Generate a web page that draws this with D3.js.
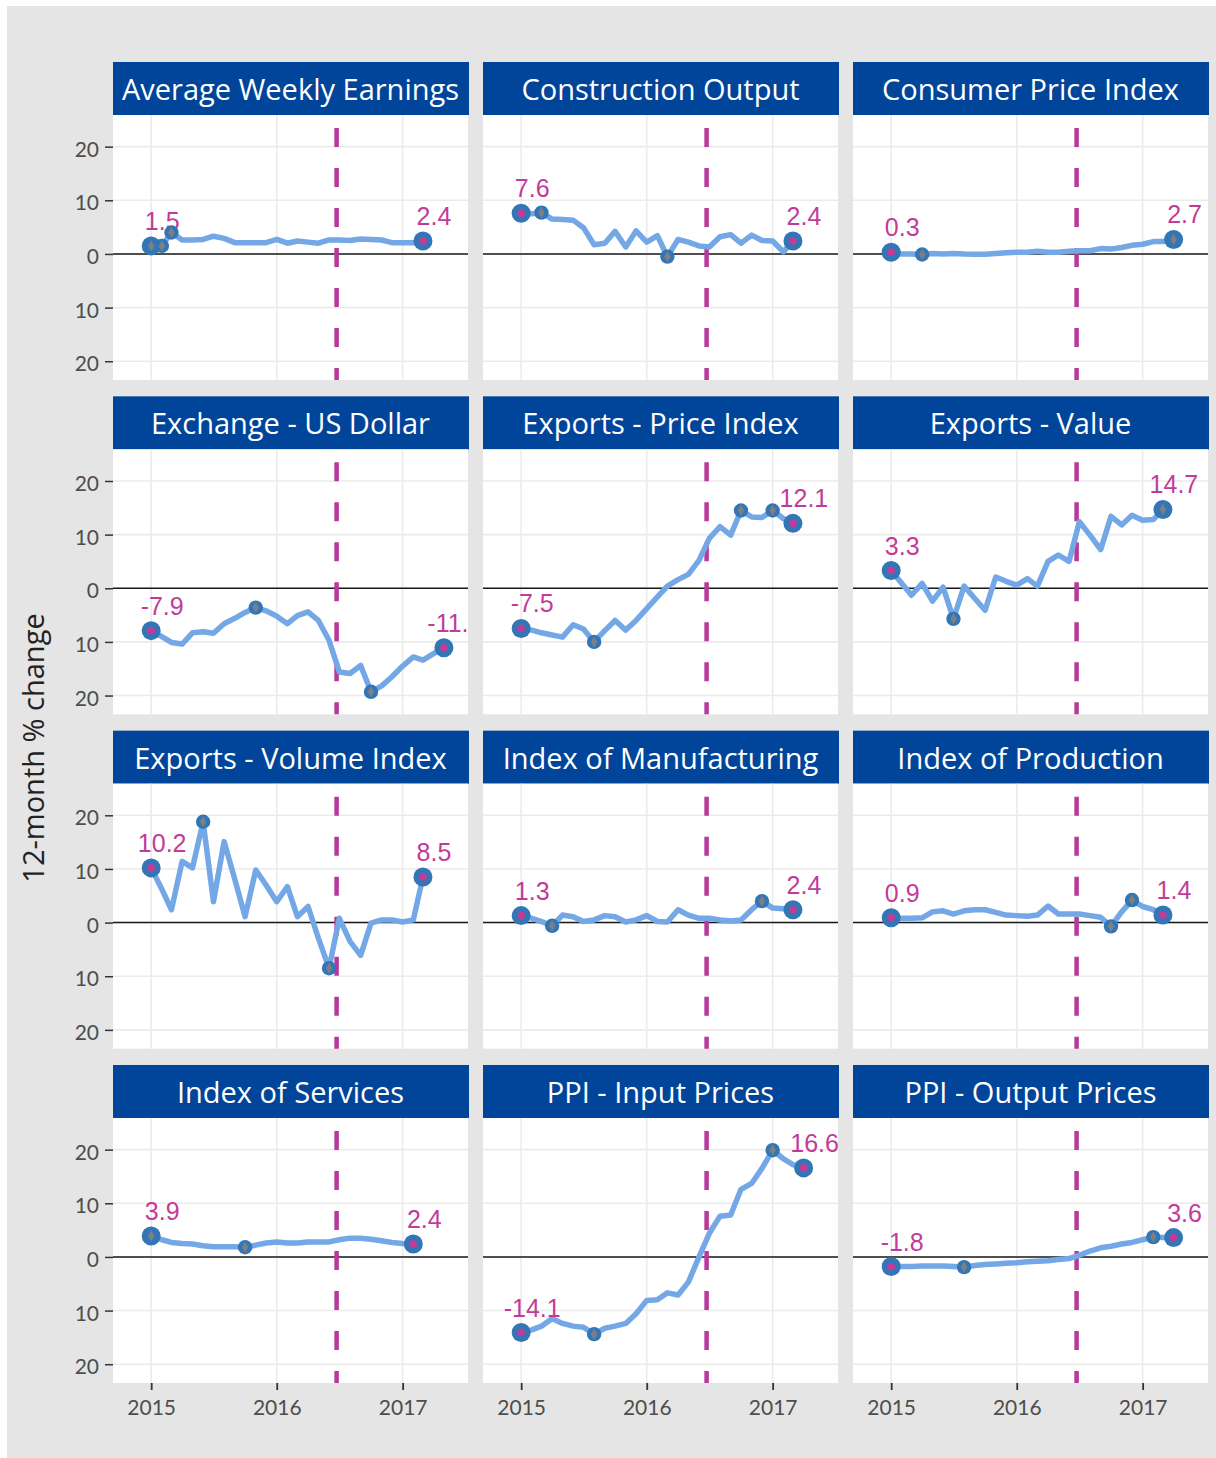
<!DOCTYPE html>
<html>
<head>
<meta charset="utf-8">
<script src="https://cdn.jsdelivr.net/npm/d3@7"></script>
<style>
  html, body { margin: 0; padding: 0; background: #ffffff; }
  svg { display: block; }
</style>
</head>
<body>
<svg id="chart" width="1216" height="1458"></svg>
<script>
// ---------------- DATA ----------------
const months = ["2015-01","2015-02","2015-03","2015-04","2015-05","2015-06","2015-07","2015-08","2015-09","2015-10","2015-11","2015-12",
                "2016-01","2016-02","2016-03","2016-04","2016-05","2016-06","2016-07","2016-08","2016-09","2016-10","2016-11","2016-12",
                "2017-01","2017-02","2017-03","2017-04","2017-05"];
const referendumDate = "2016-06-23";

const titles = ["Average Weekly Earnings","Construction Output","Consumer Price Index",
                "Exchange - US Dollar","Exports - Price Index","Exports - Value",
                "Exports - Volume Index","Index of Manufacturing","Index of Production",
                "Index of Services","PPI - Input Prices","PPI - Output Prices"];

const averageWeeklyEarnings = [1.5,1.5,4.0,2.6,2.6,2.7,3.3,2.9,2.1,2.1,2.1,2.1,2.7,2.0,2.4,2.2,2.0,2.6,2.6,2.5,2.8,2.7,2.6,2.1,2.1,2.1,2.4];
const constructionOutput    = [7.6,7.5,7.7,6.5,6.4,6.3,4.9,1.7,2.0,4.2,1.3,4.3,2.2,3.4,-0.5,2.7,2.2,1.5,1.3,3.2,3.6,2.0,3.5,2.5,2.4,0.4,2.4];
const consumerPriceIndex    = [0.3,0.0,0.0,-0.1,0.1,0.0,0.1,0.0,-0.05,-0.05,0.1,0.2,0.3,0.3,0.5,0.3,0.3,0.5,0.6,0.6,1.0,0.9,1.2,1.6,1.8,2.3,2.3,2.7];
const exchangeUsDollar      = [-7.9,-9.0,-10.1,-10.4,-8.3,-8.1,-8.4,-6.6,-5.6,-4.5,-3.6,-4.2,-5.2,-6.6,-5.1,-4.4,-6.0,-9.7,-15.6,-15.9,-14.4,-19.3,-18.2,-16.5,-14.5,-12.8,-13.4,-12.2,-11.1];
const exportsPriceIndex     = [-7.5,-7.8,-8.3,-8.7,-9.1,-6.8,-7.6,-10.0,-7.9,-6.0,-7.8,-6.0,-3.8,-1.6,0.4,1.6,2.6,5.2,9.3,11.5,9.9,14.5,13.3,13.2,14.5,13.0,12.1];
const exportsValue          = [3.3,0.9,-1.3,0.9,-2.4,0.2,-5.7,0.4,-1.9,-4.1,2.1,1.3,0.6,1.8,0.4,5.0,6.2,5.0,12.4,9.9,7.2,13.4,11.8,13.6,12.7,12.8,14.7];
const exportsVolumeIndex    = [10.2,6.2,2.4,11.4,10.2,18.8,3.9,15.1,8.1,1.1,9.8,7.0,3.9,6.7,1.1,3.0,-2.9,-8.5,0.8,-3.5,-6.1,-0.1,0.5,0.5,0.1,0.5,8.5];
const indexOfManufacturing  = [1.3,0.8,0.2,-0.6,1.4,1.1,0.2,0.5,1.3,1.1,0.1,0.5,1.3,0.2,0.1,2.4,1.4,0.8,0.8,0.5,0.3,0.5,2.4,4.0,2.7,2.6,2.4];
const indexOfProduction     = [0.9,0.8,0.8,0.9,2.0,2.2,1.6,2.2,2.4,2.4,1.9,1.4,1.3,1.2,1.4,3.1,1.6,1.6,1.6,1.3,1.0,-0.7,2.0,4.2,3.0,2.4,1.4];
const indexOfServices       = [3.9,3.2,2.7,2.5,2.4,2.1,1.9,1.9,1.9,1.8,2.2,2.6,2.8,2.6,2.6,2.8,2.8,2.8,3.2,3.5,3.5,3.3,3.0,2.7,2.5,2.4];
const ppiInputPrices        = [-14.1,-13.6,-12.9,-11.5,-12.4,-12.9,-13.1,-14.4,-13.3,-12.9,-12.4,-10.6,-8.1,-8.0,-6.7,-7.1,-4.7,0.0,4.4,7.6,7.8,12.6,13.7,16.5,19.9,18.3,17.2,16.6];
const ppiOutputPrices       = [-1.8,-1.8,-1.8,-1.7,-1.7,-1.7,-1.8,-1.9,-1.6,-1.4,-1.3,-1.2,-1.1,-0.9,-0.8,-0.7,-0.5,-0.3,0.3,1.1,1.7,2.0,2.4,2.7,3.2,3.7,3.6,3.6];

const seriesValues = [averageWeeklyEarnings, constructionOutput, consumerPriceIndex,
                      exchangeUsDollar, exportsPriceIndex, exportsValue,
                      exportsVolumeIndex, indexOfManufacturing, indexOfProduction,
                      indexOfServices, ppiInputPrices, ppiOutputPrices];

const yTickValues = [20, 10, 0, -10, -20];
const yTickLabels = ["20", "10", "0", "10", "20"];
const xTickLabels = ["2015", "2016", "2017"];
const yTitle = "12-month % change";

// ---------------- LAYOUT ----------------
const parseMonth = d3.timeParse("%Y-%m");
const parseDay = d3.timeParse("%Y-%m-%d");
const colX = [113, 483, 853];
const panelW = 355, stripH = 53, panelH = 265;
const rowTop = i => 62 + i * 334.33;

const x = d3.scaleTime()
  .domain([parseDay("2014-09-12"), parseDay("2017-07-10")])
  .range([0, panelW]);
const y = d3.scaleLinear().domain([-23.5, 25.9]).range([panelH, 0]);

const C = {
  bg: "#e5e5e5", strip: "#00459a", grid: "#ebebeb", line: "#74a7e5",
  ring: "#3276b6", pink: "#c33b98", gray: "#7d7f83", dash: "#b8399a"
};
const titleFont = "'Open Sans', Lato, sans-serif";

const svg = d3.select("#chart");
svg.append("rect").attr("x", 7).attr("y", 6).attr("width", 1209).attr("height", 1452).attr("fill", C.bg);

const xTickDates = xTickLabels.map(s => d3.timeParse("%Y")(s));
const lineGen = d3.line().x(d => x(d.date)).y(d => y(d.value));

titles.forEach((title, idx) => {
  const r = Math.floor(idx / 3), c = idx % 3;
  const top = rowTop(r);
  const g = svg.append("g").attr("transform", `translate(${colX[c]},${top})`);

  // strip
  g.append("rect").attr("x", 0).attr("y", 0).attr("width", panelW + 1).attr("height", stripH).attr("fill", C.strip);
  g.append("text").attr("x", panelW / 2).attr("y", 38)
    .attr("text-anchor", "middle").attr("fill", "#ffffff")
    .style("font-family", titleFont).style("font-size", "29px")
    .text(title);

  const p = g.append("g").attr("transform", `translate(0,${stripH})`);
  p.append("rect").attr("width", panelW).attr("height", panelH).attr("fill", "#ffffff");

  // grid
  p.selectAll("line.hg").data(yTickValues).join("line").attr("class", "hg")
    .attr("x1", 0).attr("x2", panelW).attr("y1", d => y(d)).attr("y2", d => y(d))
    .attr("stroke", C.grid).attr("stroke-width", 1.6);
  p.selectAll("line.vg").data(xTickDates).join("line").attr("class", "vg")
    .attr("x1", d => x(d)).attr("x2", d => x(d)).attr("y1", 0).attr("y2", panelH)
    .attr("stroke", C.grid).attr("stroke-width", 1.6);

  // zero line
  p.append("line").attr("x1", 0).attr("x2", panelW).attr("y1", y(0)).attr("y2", y(0))
    .attr("stroke", "#1a1a1a").attr("stroke-width", 1.5);

  // referendum dashed line
  const rx = x(parseDay(referendumDate));
  p.append("line").attr("x1", rx).attr("x2", rx).attr("y1", 0).attr("y2", panelH)
    .attr("stroke", C.dash).attr("stroke-width", 4.5)
    .attr("stroke-dasharray", "19 21").attr("stroke-dashoffset", 27);

  // clip
  const clipId = "clip" + idx;
  p.append("clipPath").attr("id", clipId).append("rect").attr("width", panelW).attr("height", panelH);
  const content = p.append("g").attr("clip-path", `url(#${clipId})`);

  const vals = seriesValues[idx];
  const data = vals.map((v, i) => ({ date: parseMonth(months[i]), value: v }));

  content.append("path").datum(data).attr("d", lineGen)
    .attr("fill", "none").attr("stroke", C.line).attr("stroke-width", 5.5)
    .attr("stroke-linejoin", "round").attr("stroke-linecap", "round");

  const ends = [data[0], data[data.length - 1]];
  const ge = content.selectAll("g.end").data(ends).join("g").attr("class", "end")
    .attr("transform", d => `translate(${x(d.date)},${y(d.value)})`);
  ge.append("circle").attr("r", 9.5).attr("fill", C.ring);
  ge.append("circle").attr("r", 3.8).attr("fill", C.pink);

  content.selectAll("text.lbl").data(ends).join("text").attr("class", "lbl")
    .attr("x", d => x(d.date) + 11).attr("y", d => y(d.value) - 16)
    .attr("text-anchor", "middle").attr("fill", C.pink)
    .style("font-family", "'Liberation Sans', Arial, sans-serif").style("font-size", "25px")
    .text(d => d.value.toFixed(1));

  const vmin = d3.min(vals), vmax = d3.max(vals);
  const extremes = data.filter(d => d.value === vmin || d.value === vmax);
  const gx = content.selectAll("g.ext").data(extremes).join("g").attr("class", "ext")
    .attr("transform", d => `translate(${x(d.date)},${y(d.value)})`);
  gx.append("circle").attr("r", 7.2).attr("fill", C.ring);
  gx.append("path").attr("d", d3.symbol().type(d3.symbolDiamond).size(36)).attr("fill", C.gray);

  // axes
  if (c === 0) {
    const ya = p.append("g").call(d3.axisLeft(y).tickValues(yTickValues)
      .tickFormat((d, i) => yTickLabels[i]).tickSize(8).tickPadding(6));
    ya.select(".domain").remove();
    ya.selectAll(".tick line").attr("stroke", "#333").attr("stroke-width", 1.5);
    ya.selectAll(".tick text").attr("fill", "#4d4d4d").attr("dy", "0.46em")
      .style("font-family", "Lato, sans-serif").style("font-size", "21px");
  }
  if (r === 3) {
    const xa = p.append("g").attr("transform", `translate(0,${panelH})`)
      .call(d3.axisBottom(x).tickValues(xTickDates).tickFormat((d, i) => xTickLabels[i])
        .tickSize(7).tickPadding(10));
    xa.select(".domain").remove();
    xa.selectAll(".tick line").attr("stroke", "#333").attr("stroke-width", 1.8);
    xa.selectAll(".tick text").attr("fill", "#4d4d4d")
      .style("font-family", "Lato, sans-serif").style("font-size", "21px");
  }
});

svg.append("text").attr("transform", "translate(44,748) rotate(-90)")
  .attr("text-anchor", "middle").attr("fill", "#222")
  .style("font-family", titleFont).style("font-size", "29px")
  .text(yTitle);
</script>
</body>
</html>
